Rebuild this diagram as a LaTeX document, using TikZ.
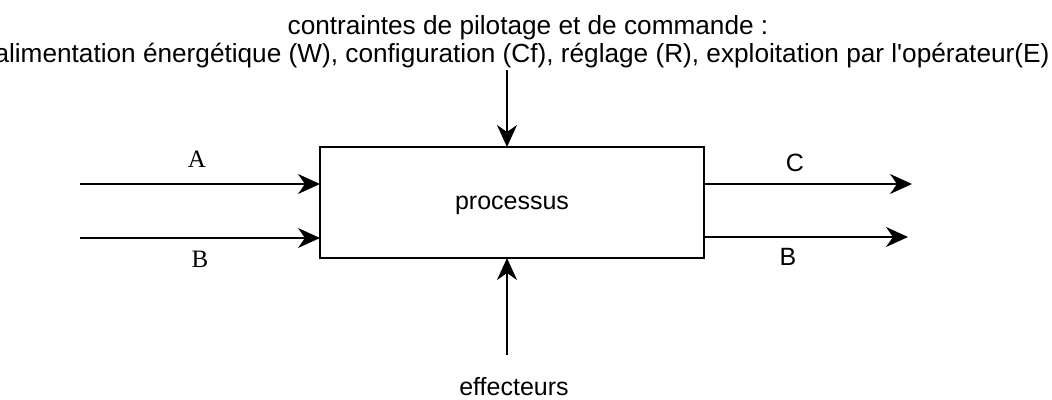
\documentclass[tikz,border=0pt]{standalone}
\usepackage{fontspec}
\setmainfont{Liberation Sans}
\newfontfamily\timesfont{Liberation Serif}
\usepackage{tikz}
\usetikzlibrary{arrows.meta,positioning,calc}
\tikzset{box/.style={draw, align=center, inner sep=0pt, outer sep=0pt, line width=1.6pt}}
\tikzset{arr/.style={-{Stealth[length=22pt, width=20pt, inset=7pt]}, line width=1.6pt}}
\tikzset{invis/.style={draw=none, fill=none, align=center, inner sep=0pt, font=\fontsize{25}{28}\selectfont}}
\tikzset{big/.style={invis, font=\fontsize{26.2}{28}\selectfont}}
\tikzset{lab/.style={invis, font=\fontsize{25}{28}\timesfont}}

\begin{document}
\begin{tikzpicture}[x=1pt, y=-1pt]
        \useasboundingbox (0,0) rectangle (1052,399);

        %%% TOP: CONSTRAINTS %%%
        \node[big, anchor=base] (ctr1) at (528,34) {contraintes de pilotage et de commande :};
        \node[big, anchor=base] (ctr2) at (522,62)
            {alimentation énergétique (W), configuration (Cf), réglage (R), exploitation par l\textquotesingle opérateur(E)};

        %%% PROCESS BOX %%%
        \node[box, minimum width=384pt, minimum height=111pt] (proc) at (512,202.5) {};
        \node[invis, anchor=base] (proclab) at (512,209) {processus};

        %%% FREE ENDS %%%
        \coordinate (top) at (507,70);
        \coordinate (inA) at (80,184);
        \coordinate (inB) at (80,238);
        \coordinate (outC) at (912,184);
        \coordinate (outB) at (908,237);
        \coordinate (bot) at (507,355);

        %%% LABELS %%%
        \node[lab] (labA) at (197,159) {A};
        \node[lab] (labB) at (200,259) {B};
        \node[invis] (labC) at (795,163) {C};
        \node[invis] (labBo) at (788,257) {B};
        \node[invis, anchor=base] (eff) at (514,395) {effecteurs};

        %%% ARROWS %%%
        \draw[arr] (top) -- (top |- proc.north);
        \draw[arr] (inA) -- (inA -| proc.west);
        \draw[arr] (inB) -- (inB -| proc.west);
        \draw[arr] (outC -| proc.east) -- (outC);
        \draw[arr] (outB -| proc.east) -- (outB);
        \draw[arr] (bot) -- (bot |- proc.south);
    \end{tikzpicture}
\end{document}
